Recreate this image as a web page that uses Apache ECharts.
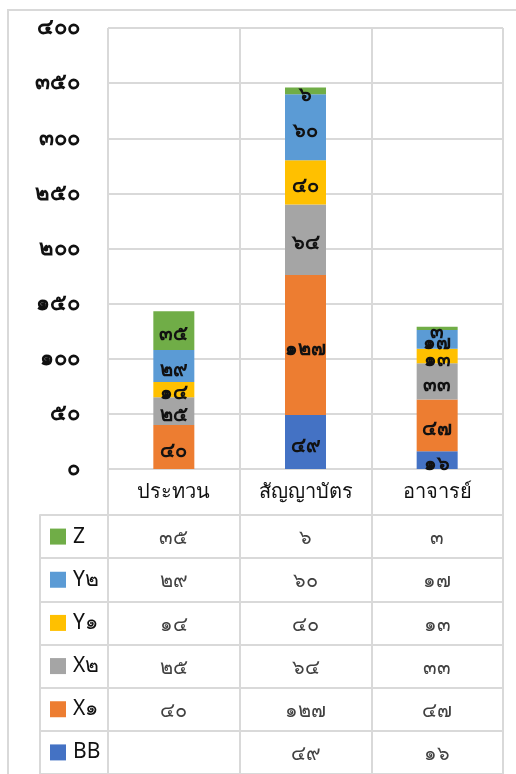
<!DOCTYPE html>
<html>
<head>
<meta charset="utf-8">
<script src="https://cdn.jsdelivr.net/npm/echarts@6/dist/echarts.min.js"></script>
<style>
  html, body { margin: 0; padding: 0; background: #fff; }
  #chart { width: 516px; height: 774px; }
</style>
</head>
<body>
<div id="chart"></div>
<script>
// Categories along the x axis
const categories = ['ประทวน', 'สัญญาบัตร', 'อาจารย์'];

// Stacked series, bottom to top
const seriesNames = ['BB', 'X๑', 'X๒', 'Y๑', 'Y๒', 'Z'];
const bbValues = [null, 49, 16];
const x1Values = [40, 127, 47];
const x2Values = [25, 64, 33];
const y1Values = [14, 40, 13];
const y2Values = [29, 60, 17];
const zValues = [35, 6, 3];

// Value axis range
const axisMin = 0;
const axisMax = 400;
const axisStep = 50;

const seriesValues = [bbValues, x1Values, x2Values, y1Values, y2Values, zValues];
const colors = ['#4472C4', '#ED7D31', '#A5A5A5', '#FFC000', '#5B9BD5', '#70AD47'];

const FONT = "'Noto Sans', 'DejaVu Sans', sans-serif";
const GRID_COLOR = '#d9d9d9';
const THAI_DIGITS = '๐๑๒๓๔๕๖๗๘๙';
function thaiNum(n) {
  return String(n).replace(/[0-9]/g, d => THAI_DIGITS[+d]);
}

const chart = echarts.init(document.getElementById('chart'), null, { renderer: 'canvas' });

// Bar series
const barSeries = seriesNames.map((name, i) => ({
  name: name,
  type: 'bar',
  stack: 'total',
  xAxisIndex: 0,
  yAxisIndex: 0,
  barWidth: 41,
  itemStyle: { color: colors[i] },
  label: {
    show: true,
    position: 'inside',
    offset: [0, 4],
    color: '#111',
    fontSize: 20,
    fontWeight: 'bold',
    fontFamily: FONT,
    formatter: p => (p.value == null ? '' : thaiNum(p.value))
  },
  data: seriesValues[i]
}));

// Data table cells beneath the chart
const tableData = [];
seriesNames.forEach((name, i) => {
  seriesValues[i].forEach((v, c) => {
    if (v != null) tableData.push([c, i, v]);
  });
});

const richLegend = {};
seriesNames.forEach((name, i) => {
  richLegend['s' + i] = { width: 16, height: 16, backgroundColor: colors[i] };
});
richLegend.nm = { fontSize: 21, color: '#111', fontFamily: FONT, padding: [0, 0, 0, 7] };

const option = {
  animation: false,
  backgroundColor: '#fff',
  grid: [
    { left: 108, right: 13, top: 28, bottom: 305 },
    { left: 108, right: 13, top: 515, height: 264 }
  ],
  xAxis: [
    {
      gridIndex: 0,
      type: 'category',
      data: categories,
      axisLine: { show: true, lineStyle: { color: GRID_COLOR, width: 2 } },
      axisTick: { show: true, length: 46, lineStyle: { color: GRID_COLOR, width: 2 } },
      axisLabel: { margin: 13, fontSize: 20, color: '#111', fontFamily: FONT },
      splitLine: { show: true, lineStyle: { color: GRID_COLOR, width: 2 } }
    },
    {
      gridIndex: 1,
      type: 'category',
      position: 'top',
      data: categories,
      axisLine: { show: true, lineStyle: { color: GRID_COLOR, width: 2 } },
      axisTick: { show: false },
      axisLabel: { show: false },
      splitLine: { show: true, lineStyle: { color: GRID_COLOR, width: 2 } }
    }
  ],
  yAxis: [
    {
      gridIndex: 0,
      type: 'value',
      min: axisMin,
      max: axisMax,
      interval: axisStep,
      axisLine: { show: false },
      axisTick: { show: false },
      axisLabel: {
        margin: 28,
        padding: [8, 0, 0, 0],
        fontSize: 22,
        fontWeight: 'bold',
        color: '#111',
        fontFamily: FONT,
        formatter: v => thaiNum(v)
      },
      splitLine: { show: true, lineStyle: { color: GRID_COLOR, width: 2 } }
    },
    {
      gridIndex: 1,
      type: 'category',
      data: seriesNames,
      axisLine: { show: true, lineStyle: { color: GRID_COLOR, width: 2 } },
      axisTick: { show: true, inside: false, length: 68, lineStyle: { color: GRID_COLOR, width: 2 } },
      axisLabel: {
        margin: 58,
        align: 'left',
        fontSize: 21,
        color: '#111',
        fontFamily: FONT,
        formatter: (v, i) => '{s' + i + '|}{nm|' + v + '}',
        rich: richLegend
      },
      splitLine: { show: true, lineStyle: { color: GRID_COLOR, width: 2 } }
    },
    {
      gridIndex: 1,
      type: 'category',
      data: seriesNames,
      position: 'left',
      offset: 68,
      axisLine: { show: true, lineStyle: { color: GRID_COLOR, width: 2 } },
      axisTick: { show: false },
      axisLabel: { show: false },
      splitLine: { show: false }
    }
  ],
  graphic: [
    {
      type: 'rect',
      shape: { x: 8, y: 10, width: 540, height: 800 },
      style: { fill: 'none', stroke: GRID_COLOR, lineWidth: 2 },
      silent: true,
      z: -1
    }
  ],
  series: barSeries.concat([
    {
      type: 'scatter',
      xAxisIndex: 1,
      yAxisIndex: 1,
      symbolSize: 0,
      label: {
        show: true,
        position: 'inside',
        offset: [0, 2],
        color: '#111',
        fontSize: 20,
        fontFamily: FONT,
        formatter: p => thaiNum(p.value[2])
      },
      data: tableData
    }
  ])
};

chart.setOption(option);
</script>
</body>
</html>
